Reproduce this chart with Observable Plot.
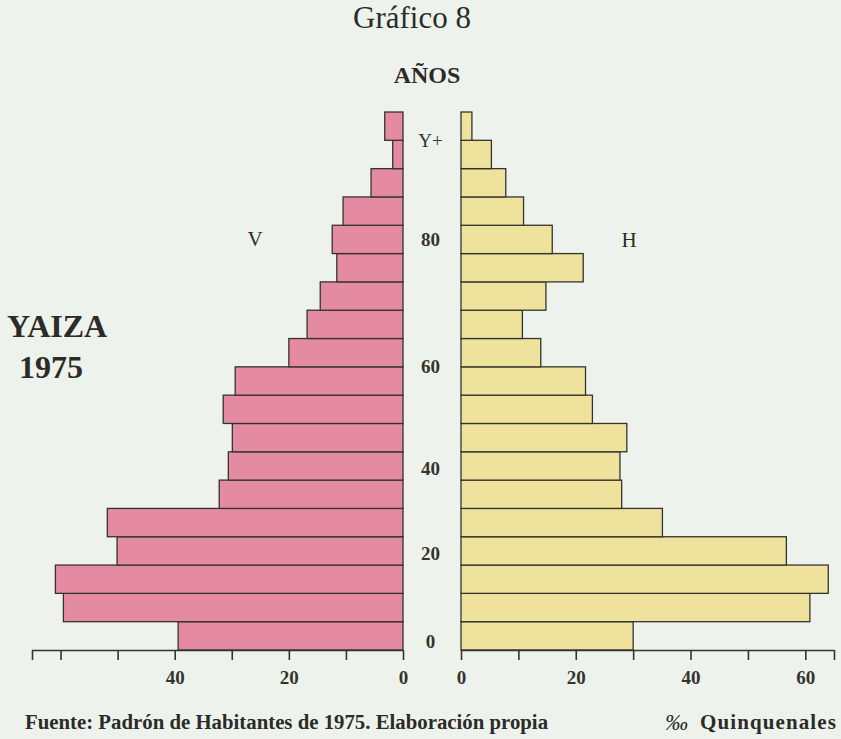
<!DOCTYPE html>
<html><head><meta charset="utf-8">
<script src="https://cdn.jsdelivr.net/npm/d3@7"></script>
<script src="https://cdn.jsdelivr.net/npm/@observablehq/plot@0.6"></script>
<style>
body{margin:0;background:#eef2ed;}
#wrap{position:relative;width:841px;height:739px;overflow:hidden;font-family:"Liberation Serif","Times New Roman",serif;color:#2b2b28;background:#eef2ed;}
.t{position:absolute;white-space:nowrap;line-height:1;}
.c{transform:translateX(-50%);}
#left,#right{position:absolute;top:100px;}
#left{left:0;} #right{left:420px;}
</style></head><body>
<div id="wrap">
  <div class="t c" style="left:412px;top:2px;font-size:31px;">Gráfico 8</div>
  <div class="t c" style="left:427px;top:63px;font-size:24px;font-weight:bold;">AÑOS</div>
  <div class="t" style="left:7px;top:310px;font-size:32px;font-weight:bold;">YAIZA</div>
  <div class="t" style="left:19px;top:351px;font-size:32px;font-weight:bold;">1975</div>
  <div class="t c" style="left:255px;top:229px;font-size:21px;">V</div>
  <div class="t c" style="left:629px;top:230px;font-size:21px;">H</div>
  <div class="t" style="left:25px;top:712px;font-size:20.8px;font-weight:bold;">Fuente: Padrón de Habitantes de 1975. Elaboración propia</div>
  <div class="t" style="left:665px;top:711px;font-size:23px;font-style:italic;">‰</div>
  <div class="t" style="left:700px;top:712px;font-size:21px;font-weight:bold;letter-spacing:1.1px;">Quinquenales</div>
  <div id="left"></div>
  <div id="right"></div>
</div>
<script>
// Age groups (quinquennial), lower bound of each group
const ageStarts = [0,5,10,15,20,25,30,35,40,45,50,55,60,65,70,75,80,85,90];
const groupLabels = ["0-4","5-9","10-14","15-19","20-24","25-29","30-34","35-39","40-44","45-49","50-54","55-59","60-64","65-69","70-74","75-79","80-84","85-89","90+"];
// Values in per mille
const varones = [39.4,59.5,60.9,50.1,51.8,32.2,30.6,29.9,31.5,29.4,20.0,16.8,14.5,11.6,12.4,10.5,5.6,1.8,3.2];
const hembras = [30.0,60.8,64.0,56.7,35.1,28.0,27.7,28.9,22.9,21.7,13.9,10.7,14.8,21.3,15.9,10.9,7.8,5.3,1.9];
// Axis ticks
const xTicks = [0,10,20,30,40,50,60,65];
const leftTickLabels = [0,20,40];
const rightTickLabels = [0,20,40,60];
const ageTickValues = [1.5,17,32,50,72.5,90];
const ageTickLabels = ["0","20","40","60","80","Y+"];

const ink = "#34342e";
const rowsV = ageStarts.map((a,i)=>({group:groupLabels[i],a0:a,a1:a+5,v:varones[i]}));
const rowsH = ageStarts.map((a,i)=>({group:groupLabels[i],a0:a,a1:a+5,v:hembras[i]}));
const font = '"Liberation Serif","Times New Roman",serif';

function side(rows, fill, reverse, mL, mR, w, labels, extra){
  return Plot.plot({
    width:w, height:600, marginLeft:mL, marginRight:mR, marginTop:12, marginBottom:50,
    style:{background:"transparent", fontFamily:font, color:ink, overflow:"visible"},
    x:{domain:[0,65], reverse, axis:null},
    y:{domain:[0,95], axis:null},
    marks:[
      Plot.rectX(rows,{x1:0,x2:"v",y1:"a0",y2:"a1",fill,stroke:ink,strokeWidth:1.3}),
      Plot.ruleY([0],{stroke:ink,strokeWidth:1.6}),
      Plot.axisX({ticks:xTicks,tickFormat:()=>"",tickSize:10,stroke:ink,strokeWidth:1.6,label:null}),
      Plot.axisX({ticks:labels,tickSize:0,tickPadding:20,fontSize:19,fontWeight:"bold",fill:ink,label:null,fontFamily:font}),
      ...extra
    ]
  });
}

const labelMap = new Map(ageTickValues.map((v,i)=>[v,ageTickLabels[i]]));
const numAges = ageTickValues.filter(v=>labelMap.get(v)!=="Y+");
const plusAges = ageTickValues.filter(v=>labelMap.get(v)==="Y+");

document.getElementById("left").append(side(rowsV,"#e48aa3",true,32,17,420,leftTickLabels,[]));
document.getElementById("right").append(side(rowsH,"#eee29c",false,41,7,421,rightTickLabels,[
  Plot.axisY({ticks:numAges,tickSize:0,tickPadding:31,textAnchor:"middle",tickFormat:d=>labelMap.get(d),fontSize:19,fontWeight:"bold",fill:ink,label:null,fontFamily:font}),
  Plot.axisY({ticks:plusAges,tickSize:0,tickPadding:31,textAnchor:"middle",tickFormat:d=>labelMap.get(d),fontSize:19,fill:ink,label:null,fontFamily:font})
]));
</script>
</body></html>
